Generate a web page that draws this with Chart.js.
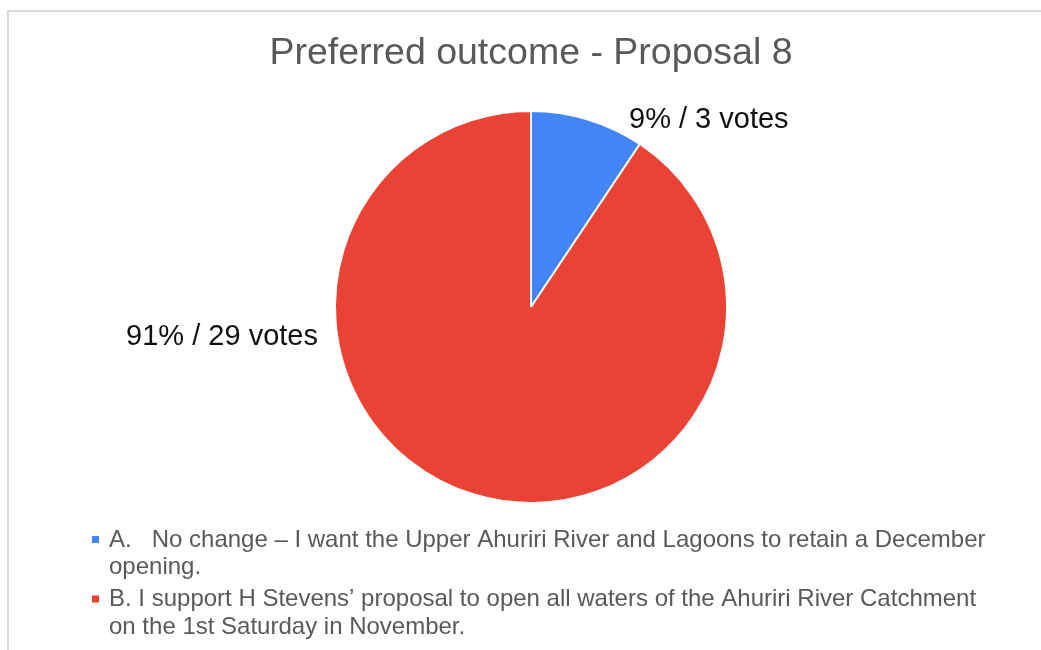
<!DOCTYPE html>
<html lang="en">
<head>
    <meta charset="UTF-8">
    <meta name="viewport" content="width=device-width, initial-scale=1.0">
    <title>Preferred outcome - Proposal 8</title>
    <script src="https://cdn.jsdelivr.net/npm/chart.js@4.4.0/dist/chart.umd.min.js"></script>
    <style>
      html, body { margin: 0; padding: 0; background: #fff; }
      #wrap { width: 1041px; height: 650px; }
    </style>
</head>
<body>
    <div id="wrap"><canvas id="myChart" width="1041" height="650"></canvas></div>

    <script>
      const title = 'Preferred outcome - Proposal 8';
      const options = [
        'A.   No change – I want the Upper Ahuriri River and Lagoons to retain a December opening.',
        'B. I support H Stevens’ proposal to open all waters of the Ahuriri River Catchment on the 1st Saturday in November.'
      ];
      const votes = [3, 29];
      const colours = ['#4285f4', '#ea4335'];

      const FONT = '"Liberation Sans", Arial, sans-serif';

      // white card with a thin grey frame behind everything
      const frame = {
        id: 'frame',
        beforeDraw(chart) {
          const ctx = chart.ctx;
          ctx.save();
          ctx.fillStyle = '#fff';
          ctx.fillRect(0, 0, chart.width, chart.height);
          ctx.strokeStyle = '#dadada';
          ctx.lineWidth = 2;
          ctx.strokeRect(8, 11, chart.width + 20, chart.height + 20);
          ctx.restore();
        }
      };

      // "9% / 3 votes" style labels next to each slice
      const sliceLabels = {
        id: 'sliceLabels',
        afterDatasetsDraw(chart) {
          const ctx = chart.ctx;
          const arcs = chart.getDatasetMeta(0).data;
          const data = chart.data.datasets[0].data;
          const total = data.reduce((a, b) => a + b, 0);
          // where each label sits, relative to the pie centre, in radii
          const spots = [
            { dx: 0.5, dy: -0.955, align: 'left' },
            { dx: -1.087, dy: 0.153, align: 'right' }
          ];
          ctx.save();
          ctx.font = '29px ' + FONT;
          ctx.fillStyle = '#111';
          ctx.textBaseline = 'middle';
          arcs.forEach((arc, i) => {
            const r = arc.outerRadius;
            const pct = Math.round(data[i] / total * 100);
            ctx.textAlign = spots[i].align;
            ctx.fillText(pct + '% / ' + data[i] + ' votes', arc.x + spots[i].dx * r, arc.y + spots[i].dy * r);
          });
          ctx.restore();
        }
      };

      // legend under the pie, wrapped over two lines per entry
      const wrapLegend = {
        id: 'wrapLegend',
        afterDraw(chart) {
          const ctx = chart.ctx;
          const left = 109, maxW = 890, lineH = 27.5, gap = 4.5;
          let y = 540;
          ctx.save();
          ctx.font = '24px ' + FONT;
          ctx.textBaseline = 'middle';
          chart.data.labels.forEach((label, i) => {
            const words = label.split(' ');
            const lines = [];
            let line = '';
            words.forEach(w => {
              const test = line === '' ? w : line + ' ' + w;
              if (line !== '' && ctx.measureText(test).width > maxW) {
                lines.push(line);
                line = w;
              } else {
                line = test;
              }
            });
            lines.push(line);
            ctx.fillStyle = chart.data.datasets[0].backgroundColor[i];
            ctx.fillRect(92, y - 4, 7, 7);
            ctx.fillStyle = '#595959';
            ctx.textAlign = 'left';
            lines.forEach((l, k) => {
              ctx.fillText(l, left, y + k * lineH);
            });
            y += lines.length * lineH + gap;
          });
          ctx.restore();
        }
      };

      const ctx = document.getElementById('myChart').getContext('2d');
      const myChart = new Chart(ctx, {
        type: 'pie',
        data: {
          labels: options,
          datasets: [
            {
              data: votes,
              backgroundColor: colours,
              borderColor: '#fff',
              borderWidth: 2
            }
          ]
        },
        options: {
          responsive: false,
          animation: false,
          events: [],
          layout: { padding: { left: 21, right: 0, top: 0, bottom: 146 } },
          plugins: {
            legend: { display: false },
            tooltip: { enabled: false },
            title: {
              display: true,
              text: title,
              color: '#595959',
              font: { family: FONT, size: 37.5, weight: 'normal' },
              padding: { top: 31, bottom: 34 }
            }
          }
        },
        plugins: [frame, sliceLabels, wrapLegend]
      });
    </script>
</body>
</html>
